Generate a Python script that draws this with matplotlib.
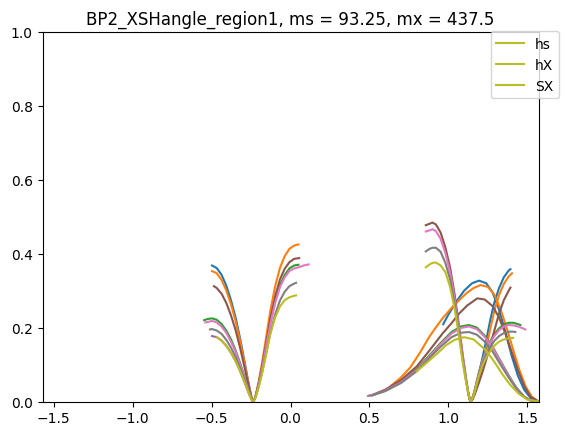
import numpy as np
import matplotlib
matplotlib.use("Agg")
import matplotlib.pyplot as plt

title = "BP2_XSHangle_region1, ms = 93.25, mx = 437.5"
legend_labels = ["hs", "hX", "SX"]
colors = ["C0", "C1", "C2", "C4", "C5", "C6", "C7", "C8"]

# ---------- left group (V shaped, minimum near -0.237) ----------
blue_v_x = [-0.497, -0.467, -0.437, -0.407, -0.377, -0.347, -0.317, -0.292, -0.272, -0.257, -0.247, -0.237]
blue_v_y = [0.368, 0.361, 0.343, 0.314, 0.274, 0.226, 0.166, 0.110, 0.064, 0.031, 0.011, 0.0]

orange_v_x = [-0.497, -0.467, -0.437, -0.407, -0.377, -0.347, -0.317, -0.292, -0.272, -0.257, -0.247, -0.237,
              -0.227, -0.217, -0.202, -0.182, -0.157, -0.127, -0.097, -0.067, -0.037, -0.007, 0.023, 0.05]
orange_v_y = [0.353, 0.347, 0.329, 0.301, 0.263, 0.216, 0.159, 0.106, 0.062, 0.030, 0.011, 0.0,
              0.008, 0.023, 0.053, 0.100, 0.166, 0.247, 0.312, 0.361, 0.393, 0.413, 0.422, 0.425]

green_v_x = [-0.547, -0.527, -0.497, -0.467, -0.437, -0.407, -0.377, -0.347, -0.317, -0.292, -0.272, -0.257, -0.247, -0.237,
             -0.227, -0.217, -0.202, -0.182, -0.157, -0.127, -0.097, -0.067, -0.037, -0.007, 0.023, 0.05]
green_v_y = [0.220, 0.223, 0.225, 0.221, 0.210, 0.192, 0.168, 0.138, 0.101, 0.068, 0.039, 0.019, 0.007, 0.0,
             0.007, 0.020, 0.046, 0.087, 0.144, 0.215, 0.272, 0.315, 0.342, 0.360, 0.368, 0.370]

purple_v_x = [-0.497, -0.467, -0.437, -0.407, -0.377, -0.347, -0.317, -0.292, -0.272, -0.257, -0.247, -0.237]
purple_v_y = [0.177, 0.174, 0.165, 0.151, 0.132, 0.109, 0.080, 0.053, 0.031, 0.015, 0.005, 0.0]

brown_v_x = [-0.485, -0.467, -0.437, -0.407, -0.377, -0.347, -0.317, -0.292, -0.272, -0.257, -0.247, -0.237,
             -0.227, -0.217, -0.202, -0.182, -0.157, -0.127, -0.097, -0.067, -0.037, -0.007, 0.023, 0.055]
brown_v_y = [0.312, 0.307, 0.292, 0.267, 0.233, 0.192, 0.141, 0.094, 0.055, 0.027, 0.009, 0.0,
             0.007, 0.021, 0.049, 0.091, 0.151, 0.225, 0.285, 0.330, 0.359, 0.377, 0.386, 0.388]

pink_v_x = [-0.540, -0.527, -0.497, -0.467, -0.437, -0.407, -0.377, -0.347, -0.317, -0.292, -0.272, -0.257, -0.247, -0.237,
            -0.227, -0.217, -0.202, -0.182, -0.157, -0.127, -0.097, -0.067, -0.037, -0.007, 0.023, 0.05, 0.083, 0.115]
pink_v_y = [0.214, 0.215, 0.218, 0.214, 0.203, 0.186, 0.162, 0.134, 0.098, 0.065, 0.038, 0.019, 0.007, 0.0,
            0.007, 0.020, 0.045, 0.085, 0.142, 0.211, 0.267, 0.309, 0.336, 0.353, 0.360, 0.363, 0.368, 0.371]

gray_v_x = [-0.510, -0.497, -0.467, -0.437, -0.407, -0.377, -0.347, -0.317, -0.292, -0.272, -0.257, -0.247, -0.237,
            -0.227, -0.217, -0.202, -0.182, -0.157, -0.127, -0.097, -0.067, -0.037, -0.007, 0.023, 0.035]
gray_v_y = [0.195, 0.196, 0.192, 0.183, 0.167, 0.146, 0.120, 0.088, 0.059, 0.034, 0.017, 0.006, 0.0,
            0.006, 0.018, 0.040, 0.075, 0.125, 0.186, 0.236, 0.273, 0.297, 0.312, 0.319, 0.321]

olive_v_x = [-0.467, -0.437, -0.407, -0.377, -0.347, -0.317, -0.292, -0.272, -0.257, -0.247, -0.237,
             -0.227, -0.217, -0.202, -0.182, -0.157, -0.127, -0.097, -0.067, -0.037, -0.007, 0.023, 0.035]
olive_v_y = [0.174, 0.165, 0.151, 0.132, 0.109, 0.080, 0.053, 0.031, 0.015, 0.005, 0.0,
             0.006, 0.017, 0.038, 0.072, 0.122, 0.185, 0.228, 0.257, 0.274, 0.282, 0.286, 0.287]

# ---------- right group, hump curves ----------
blue_h_x = [0.967, 1.0, 1.05, 1.1, 1.15, 1.194, 1.24, 1.28, 1.32, 1.36, 1.40, 1.44, 1.48, 1.52, 1.55, 1.5708]
blue_h_y = [0.209, 0.235, 0.270, 0.300, 0.320, 0.327, 0.320, 0.295, 0.250, 0.190, 0.125, 0.070, 0.032, 0.010, 0.003, 0.0]

orange_h_x = [0.638, 0.7, 0.76, 0.82, 0.879, 0.92, 0.963, 1.02, 1.068, 1.12, 1.16, 1.204, 1.25, 1.29, 1.33, 1.37,
              1.41, 1.45, 1.49, 1.53, 1.5708]
orange_h_y = [0.043, 0.065, 0.093, 0.132, 0.175, 0.200, 0.225, 0.253, 0.274, 0.295, 0.307, 0.315, 0.310, 0.290, 0.250,
              0.198, 0.140, 0.085, 0.040, 0.012, 0.0]

green_h_x = [0.52, 0.6, 0.7, 0.8, 0.88, 0.95, 1.02, 1.08, 1.13, 1.18, 1.23, 1.28, 1.33, 1.38, 1.43, 1.48, 1.52, 1.5708]
green_h_y = [0.017, 0.030, 0.054, 0.088, 0.125, 0.158, 0.188, 0.203, 0.207, 0.200, 0.178, 0.148, 0.110, 0.072, 0.038,
             0.013, 0.003, 0.0]

brown_h_x = [0.52, 0.6, 0.7, 0.8, 0.88, 0.963, 1.02, 1.068, 1.12, 1.183, 1.23, 1.28, 1.32, 1.36, 1.40, 1.44, 1.48,
             1.52, 1.5708]
brown_h_y = [0.018, 0.032, 0.058, 0.095, 0.138, 0.184, 0.212, 0.238, 0.260, 0.279, 0.276, 0.258, 0.228, 0.185, 0.135,
             0.085, 0.042, 0.013, 0.0]

pink_h_x = [0.49, 0.52, 0.6, 0.7, 0.8, 0.88, 0.95, 1.02, 1.08, 1.13, 1.18, 1.23, 1.28, 1.33, 1.38, 1.43, 1.48, 1.52, 1.5708]
pink_h_y = [0.015, 0.017, 0.029, 0.052, 0.085, 0.122, 0.155, 0.184, 0.199, 0.203, 0.196, 0.175, 0.145, 0.108, 0.070,
            0.037, 0.013, 0.003, 0.0]

gray_h_x = [0.50, 0.52, 0.6, 0.7, 0.8, 0.88, 0.95, 1.02, 1.08, 1.13, 1.18, 1.23, 1.28, 1.33, 1.38, 1.43, 1.48, 1.52, 1.5708]
gray_h_y = [0.016, 0.017, 0.028, 0.050, 0.082, 0.118, 0.148, 0.174, 0.186, 0.188, 0.181, 0.162, 0.135, 0.100, 0.066,
            0.035, 0.012, 0.003, 0.0]

olive_h_x = [0.80, 0.879, 0.93, 0.984, 1.04, 1.1, 1.16, 1.236, 1.29, 1.34, 1.39, 1.446, 1.5, 1.5708]
olive_h_y = [0.082, 0.111, 0.130, 0.152, 0.167, 0.174, 0.168, 0.139, 0.108, 0.075, 0.046, 0.021, 0.005, 0.0]

# ---------- right group, V shaped curves (minimum near 1.141) ----------
blue_s_x = [1.126, 1.135, 1.141, 1.147, 1.156, 1.171, 1.191, 1.216, 1.241, 1.266, 1.291, 1.321, 1.351, 1.381, 1.393]
blue_s_y = [0.023, 0.006, 0.0, 0.003, 0.012, 0.035, 0.070, 0.118, 0.168, 0.222, 0.268, 0.307, 0.336, 0.354, 0.358]

orange_s_x = [1.126, 1.135, 1.141, 1.147, 1.156, 1.171, 1.191, 1.216, 1.241, 1.266, 1.291, 1.321, 1.351, 1.381, 1.403]
orange_s_y = [0.023, 0.006, 0.0, 0.002, 0.009, 0.028, 0.058, 0.100, 0.147, 0.198, 0.245, 0.288, 0.318, 0.338, 0.347]

green_s_x = [1.126, 1.135, 1.141, 1.147, 1.156, 1.171, 1.191, 1.216, 1.241, 1.266, 1.291, 1.321, 1.351, 1.381,
             1.411, 1.436, 1.456]
green_s_y = [0.023, 0.006, 0.0, 0.004, 0.014, 0.038, 0.075, 0.113, 0.140, 0.163, 0.182, 0.198, 0.208, 0.213,
             0.213, 0.210, 0.207]

brown_s_x = [0.857, 0.881, 0.9, 0.921, 0.951, 0.981, 1.011, 1.041, 1.066, 1.091, 1.111, 1.126, 1.135, 1.141,
             1.147, 1.156, 1.171, 1.191, 1.216, 1.241, 1.266, 1.291, 1.321, 1.351, 1.381, 1.393]
brown_s_y = [0.477, 0.481, 0.484, 0.479, 0.457, 0.417, 0.362, 0.286, 0.208, 0.126, 0.065, 0.024, 0.006, 0.0,
             0.002, 0.008, 0.024, 0.048, 0.080, 0.115, 0.152, 0.192, 0.238, 0.274, 0.299, 0.308]

pink_s_x = [0.857, 0.881, 0.9, 0.921, 0.951, 0.981, 1.011, 1.041, 1.066, 1.091, 1.111, 1.126, 1.135, 1.141,
            1.147, 1.156, 1.171, 1.191, 1.216, 1.241, 1.266, 1.291, 1.321, 1.351, 1.381, 1.411, 1.441, 1.466, 1.487]
pink_s_y = [0.460, 0.463, 0.466, 0.461, 0.440, 0.402, 0.349, 0.275, 0.200, 0.121, 0.063, 0.023, 0.006, 0.0,
            0.004, 0.014, 0.037, 0.073, 0.110, 0.137, 0.159, 0.177, 0.193, 0.203, 0.207, 0.206, 0.203, 0.199, 0.195]

gray_s_x = [0.857, 0.881, 0.9, 0.921, 0.951, 0.981, 1.011, 1.041, 1.066, 1.091, 1.111, 1.126, 1.135, 1.141,
            1.147, 1.156, 1.171, 1.191, 1.216, 1.241, 1.266, 1.291, 1.321, 1.351, 1.381, 1.411, 1.424]
gray_s_y = [0.406, 0.413, 0.416, 0.416, 0.405, 0.375, 0.330, 0.260, 0.190, 0.113, 0.059, 0.022, 0.006, 0.0,
            0.004, 0.013, 0.035, 0.070, 0.104, 0.128, 0.148, 0.164, 0.177, 0.185, 0.189, 0.189, 0.188]

olive_s_x = [0.857, 0.881, 0.9, 0.921, 0.951, 0.981, 1.011, 1.041, 1.066, 1.091, 1.111, 1.126, 1.135, 1.141,
             1.147, 1.156, 1.171, 1.191, 1.216, 1.241, 1.266, 1.291, 1.321, 1.351, 1.381, 1.41]
olive_s_y = [0.363, 0.371, 0.375, 0.376, 0.368, 0.350, 0.310, 0.248, 0.180, 0.105, 0.055, 0.022, 0.006, 0.0,
             0.004, 0.012, 0.033, 0.066, 0.098, 0.120, 0.137, 0.151, 0.162, 0.168, 0.171, 0.172]

curves = [
    ("C0", [(blue_v_x, blue_v_y), (blue_h_x, blue_h_y), (blue_s_x, blue_s_y)]),
    ("C1", [(orange_v_x, orange_v_y), (orange_h_x, orange_h_y), (orange_s_x, orange_s_y)]),
    ("C2", [(green_v_x, green_v_y), (green_h_x, green_h_y), (green_s_x, green_s_y)]),
    ("C4", [(purple_v_x, purple_v_y)]),
    ("C5", [(brown_v_x, brown_v_y), (brown_h_x, brown_h_y), (brown_s_x, brown_s_y)]),
    ("C6", [(pink_v_x, pink_v_y), (pink_h_x, pink_h_y), (pink_s_x, pink_s_y)]),
    ("C7", [(gray_v_x, gray_v_y), (gray_h_x, gray_h_y), (gray_s_x, gray_s_y)]),
    ("C8", [(olive_v_x, olive_v_y), (olive_h_x, olive_h_y), (olive_s_x, olive_s_y)]),
]

fig = plt.figure(figsize=(5.67, 4.35), dpi=100)
ax = fig.add_axes([42.5 / 567, 32.5 / 435, 496 / 567, 369.6 / 435])

for color, segs in curves:
    for i, (xs, ys) in enumerate(segs):
        label = legend_labels[i] if color == "C8" else None
        ax.plot(xs, ys, color=color, lw=1.5, label=label)

ax.set_xlim(-np.pi / 2, np.pi / 2)
ax.set_ylim(0, 1)
ax.set_title(title)
ax.legend(loc="upper right", bbox_to_anchor=(1.055, 1.02))

fig.savefig("out.png", dpi=100)
